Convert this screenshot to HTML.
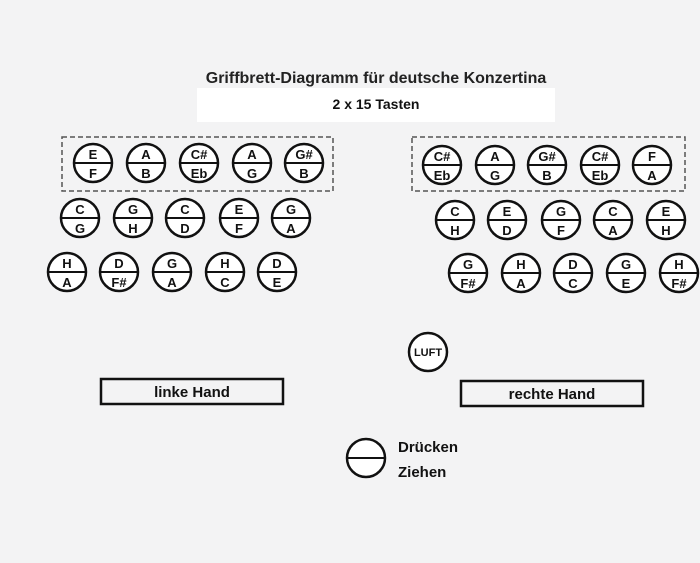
<!DOCTYPE html>
<html><head><meta charset="utf-8"><style>
html,body{margin:0;padding:0;background:#f3f3f4;}
svg{display:block;font-family:"Liberation Sans",Arial,sans-serif;font-weight:bold;}
</style></head><body>
<svg width="700" height="563" viewBox="0 0 700 563" xmlns="http://www.w3.org/2000/svg" font-family="Liberation Sans, Arial, sans-serif" font-weight="bold">
<rect x="0" y="0" width="700" height="563" fill="#f3f3f4"/>
<text x="376" y="83" font-size="16" text-anchor="middle" fill="#222">Griffbrett-Diagramm für deutsche Konzertina</text>
<rect x="197" y="88" width="358" height="34" fill="#fff"/>
<text x="376" y="109" font-size="14" text-anchor="middle" fill="#111">2 x 15 Tasten</text>
<rect x="62" y="137" width="271" height="54" fill="none" stroke="#555" stroke-width="1.5" stroke-dasharray="5,3"/>
<rect x="412" y="137" width="273" height="54" fill="none" stroke="#555" stroke-width="1.5" stroke-dasharray="5,3"/>
<g fill="#fff" stroke="#111" stroke-width="2.5">
<circle cx="428" cy="352" r="19"/>
<circle cx="366" cy="458" r="19"/>
</g>
<line x1="347" y1="458" x2="385" y2="458" stroke="#111" stroke-width="2"/>
<text x="428" y="356" font-size="11" text-anchor="middle" fill="#111">LUFT</text>
<text x="398" y="452" font-size="15" fill="#111">Drücken</text>
<text x="398" y="477" font-size="15" fill="#111">Ziehen</text>
<rect x="101" y="379" width="182" height="25" fill="none" stroke="#111" stroke-width="2.5"/>
<text x="192" y="397" font-size="15" text-anchor="middle" fill="#111">linke Hand</text>
<rect x="461" y="381" width="182" height="25" fill="none" stroke="#111" stroke-width="2.5"/>
<text x="552" y="399" font-size="15" text-anchor="middle" fill="#111">rechte Hand</text>

<g stroke="#111" stroke-width="2.5" fill="#fff">
<circle cx="93" cy="163" r="19"/><circle cx="146" cy="163" r="19"/><circle cx="199" cy="163" r="19"/><circle cx="252" cy="163" r="19"/><circle cx="304" cy="163" r="19"/>
<circle cx="80" cy="218" r="19"/><circle cx="133" cy="218" r="19"/><circle cx="185" cy="218" r="19"/><circle cx="239" cy="218" r="19"/><circle cx="291" cy="218" r="19"/>
<circle cx="67" cy="272" r="19"/><circle cx="119" cy="272" r="19"/><circle cx="172" cy="272" r="19"/><circle cx="225" cy="272" r="19"/><circle cx="277" cy="272" r="19"/>
<circle cx="442" cy="165" r="19"/><circle cx="495" cy="165" r="19"/><circle cx="547" cy="165" r="19"/><circle cx="600" cy="165" r="19"/><circle cx="652" cy="165" r="19"/>
<circle cx="455" cy="220" r="19"/><circle cx="507" cy="220" r="19"/><circle cx="561" cy="220" r="19"/><circle cx="613" cy="220" r="19"/><circle cx="666" cy="220" r="19"/>
<circle cx="468" cy="273" r="19"/><circle cx="521" cy="273" r="19"/><circle cx="573" cy="273" r="19"/><circle cx="626" cy="273" r="19"/><circle cx="679" cy="273" r="19"/>
</g>
<g stroke="#111" stroke-width="2">
<line x1="74" y1="163" x2="112" y2="163"/><line x1="127" y1="163" x2="165" y2="163"/><line x1="180" y1="163" x2="218" y2="163"/><line x1="233" y1="163" x2="271" y2="163"/><line x1="285" y1="163" x2="323" y2="163"/>
<line x1="61" y1="218" x2="99" y2="218"/><line x1="114" y1="218" x2="152" y2="218"/><line x1="166" y1="218" x2="204" y2="218"/><line x1="220" y1="218" x2="258" y2="218"/><line x1="272" y1="218" x2="310" y2="218"/>
<line x1="48" y1="272" x2="86" y2="272"/><line x1="100" y1="272" x2="138" y2="272"/><line x1="153" y1="272" x2="191" y2="272"/><line x1="206" y1="272" x2="244" y2="272"/><line x1="258" y1="272" x2="296" y2="272"/>
<line x1="423" y1="165" x2="461" y2="165"/><line x1="476" y1="165" x2="514" y2="165"/><line x1="528" y1="165" x2="566" y2="165"/><line x1="581" y1="165" x2="619" y2="165"/><line x1="633" y1="165" x2="671" y2="165"/>
<line x1="436" y1="220" x2="474" y2="220"/><line x1="488" y1="220" x2="526" y2="220"/><line x1="542" y1="220" x2="580" y2="220"/><line x1="594" y1="220" x2="632" y2="220"/><line x1="647" y1="220" x2="685" y2="220"/>
<line x1="449" y1="273" x2="487" y2="273"/><line x1="502" y1="273" x2="540" y2="273"/><line x1="554" y1="273" x2="592" y2="273"/><line x1="607" y1="273" x2="645" y2="273"/><line x1="660" y1="273" x2="698" y2="273"/>
</g>
<g font-size="13" text-anchor="middle" fill="#111">
<text x="93" y="159">E</text><text x="93" y="178">F</text>
<text x="146" y="159">A</text><text x="146" y="178">B</text>
<text x="199" y="159">C#</text><text x="199" y="178">Eb</text>
<text x="252" y="159">A</text><text x="252" y="178">G</text>
<text x="304" y="159">G#</text><text x="304" y="178">B</text>
<text x="80" y="214">C</text><text x="80" y="233">G</text>
<text x="133" y="214">G</text><text x="133" y="233">H</text>
<text x="185" y="214">C</text><text x="185" y="233">D</text>
<text x="239" y="214">E</text><text x="239" y="233">F</text>
<text x="291" y="214">G</text><text x="291" y="233">A</text>
<text x="67" y="268">H</text><text x="67" y="287">A</text>
<text x="119" y="268">D</text><text x="119" y="287">F#</text>
<text x="172" y="268">G</text><text x="172" y="287">A</text>
<text x="225" y="268">H</text><text x="225" y="287">C</text>
<text x="277" y="268">D</text><text x="277" y="287">E</text>
<text x="442" y="161">C#</text><text x="442" y="180">Eb</text>
<text x="495" y="161">A</text><text x="495" y="180">G</text>
<text x="547" y="161">G#</text><text x="547" y="180">B</text>
<text x="600" y="161">C#</text><text x="600" y="180">Eb</text>
<text x="652" y="161">F</text><text x="652" y="180">A</text>
<text x="455" y="216">C</text><text x="455" y="235">H</text>
<text x="507" y="216">E</text><text x="507" y="235">D</text>
<text x="561" y="216">G</text><text x="561" y="235">F</text>
<text x="613" y="216">C</text><text x="613" y="235">A</text>
<text x="666" y="216">E</text><text x="666" y="235">H</text>
<text x="468" y="269">G</text><text x="468" y="288">F#</text>
<text x="521" y="269">H</text><text x="521" y="288">A</text>
<text x="573" y="269">D</text><text x="573" y="288">C</text>
<text x="626" y="269">G</text><text x="626" y="288">E</text>
<text x="679" y="269">H</text><text x="679" y="288">F#</text>
</g>
</svg>
</body></html>
